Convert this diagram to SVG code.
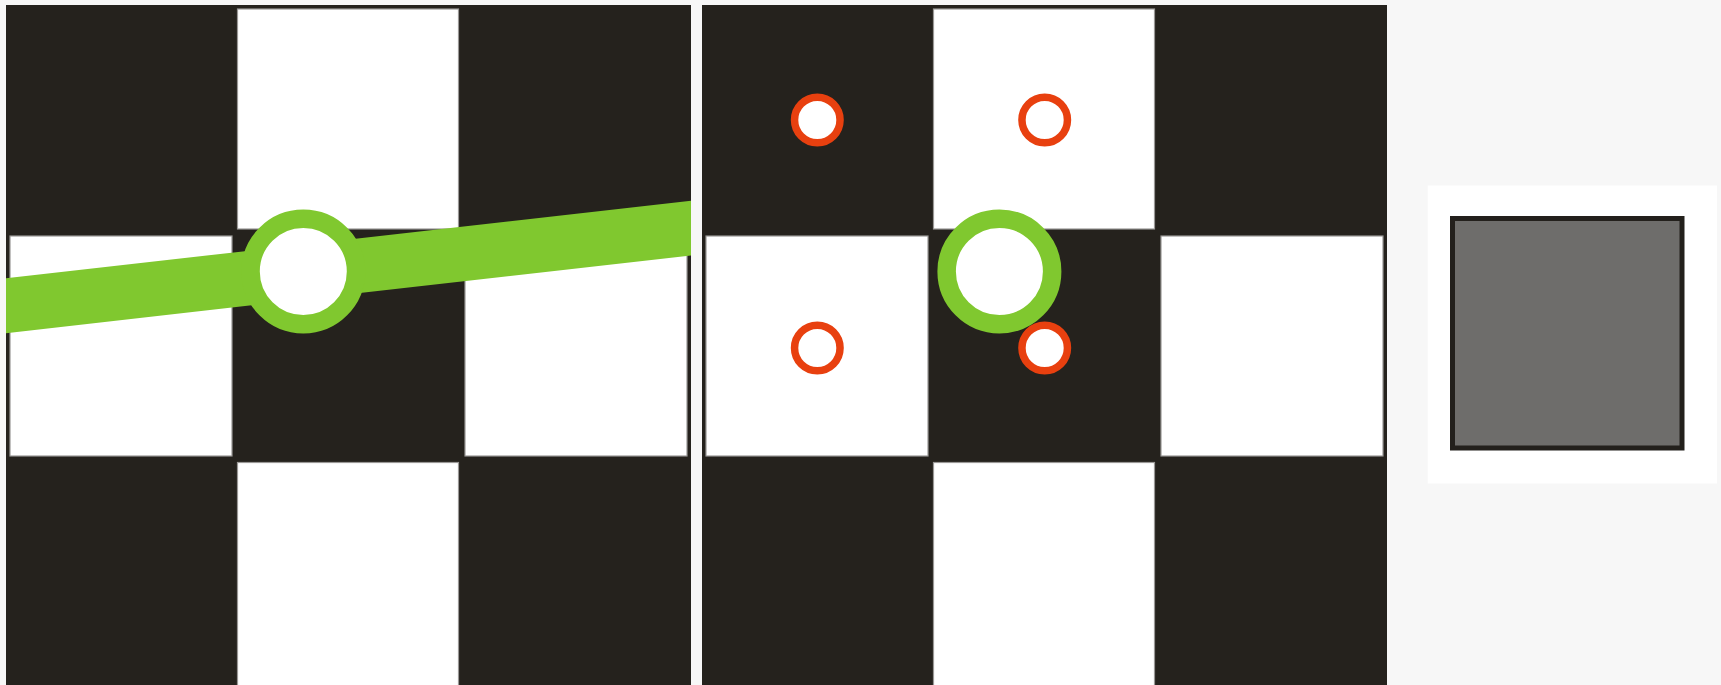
<svg xmlns="http://www.w3.org/2000/svg" width="1721" height="685" viewBox="0 0 1721 685">
  <defs>
    <style>
      .panel { fill: #25221d; }
      .sq { fill: #ffffff; stroke: #9a9896; stroke-width: 1.2; }
      .green { fill: #ffffff; stroke: #80c82f; stroke-width: 18.5; }
      .red { fill: #ffffff; stroke: #e8400f; stroke-width: 7.5; }
    </style>
    <clipPath id="clip1">
      <rect x="6" y="5" width="685" height="680"/>
    </clipPath>
  </defs>
  <rect x="0" y="0" width="1721" height="685" fill="#f7f7f7"/>

  <g id="panel-left">
    <rect class="panel" x="6" y="5" width="685" height="680"/>
    <rect class="sq" x="237.5" y="9" width="221" height="220"/>
    <rect class="sq" x="10" y="236" width="222" height="220"/>
    <rect class="sq" x="465" y="236" width="222" height="220"/>
    <rect class="sq" x="237.5" y="462.5" width="221" height="230"/>
  </g>

  <g id="connectors">
    <line x1="0" y1="306.4" x2="700" y2="227.1" stroke="#80c82f" stroke-width="54.6" clip-path="url(#clip1)"/>
  </g>

  <g id="node-green-left">
    <circle class="green" cx="303.3" cy="271.5" r="52.75"/>
  </g>

  <g id="panel-middle">
    <rect class="panel" x="702" y="5" width="685" height="680"/>
    <rect class="sq" x="933.5" y="9" width="221" height="220"/>
    <rect class="sq" x="706" y="236" width="222" height="220"/>
    <rect class="sq" x="1161" y="236" width="222" height="220"/>
    <rect class="sq" x="933.5" y="462.5" width="221" height="230"/>
  </g>

  <g id="node-red-1"><circle class="red" cx="817.3" cy="120" r="22.75"/></g>
  <g id="node-red-2"><circle class="red" cx="1044.7" cy="120" r="22.75"/></g>
  <g id="node-red-3"><circle class="red" cx="817.3" cy="348" r="22.75"/></g>
  <g id="node-red-4"><circle class="red" cx="1044.7" cy="348" r="22.75"/></g>

  <g id="node-green-middle">
    <circle class="green" cx="999.4" cy="271.5" r="52.75"/>
  </g>

  <g id="panel-right">
    <rect x="1427.7" y="185.5" width="289.3" height="298" fill="#ffffff"/>
    <rect x="1452.5" y="218.5" width="229.5" height="229.5" fill="#6e6d6b" stroke="#23201c" stroke-width="5"/>
  </g>
</svg>
